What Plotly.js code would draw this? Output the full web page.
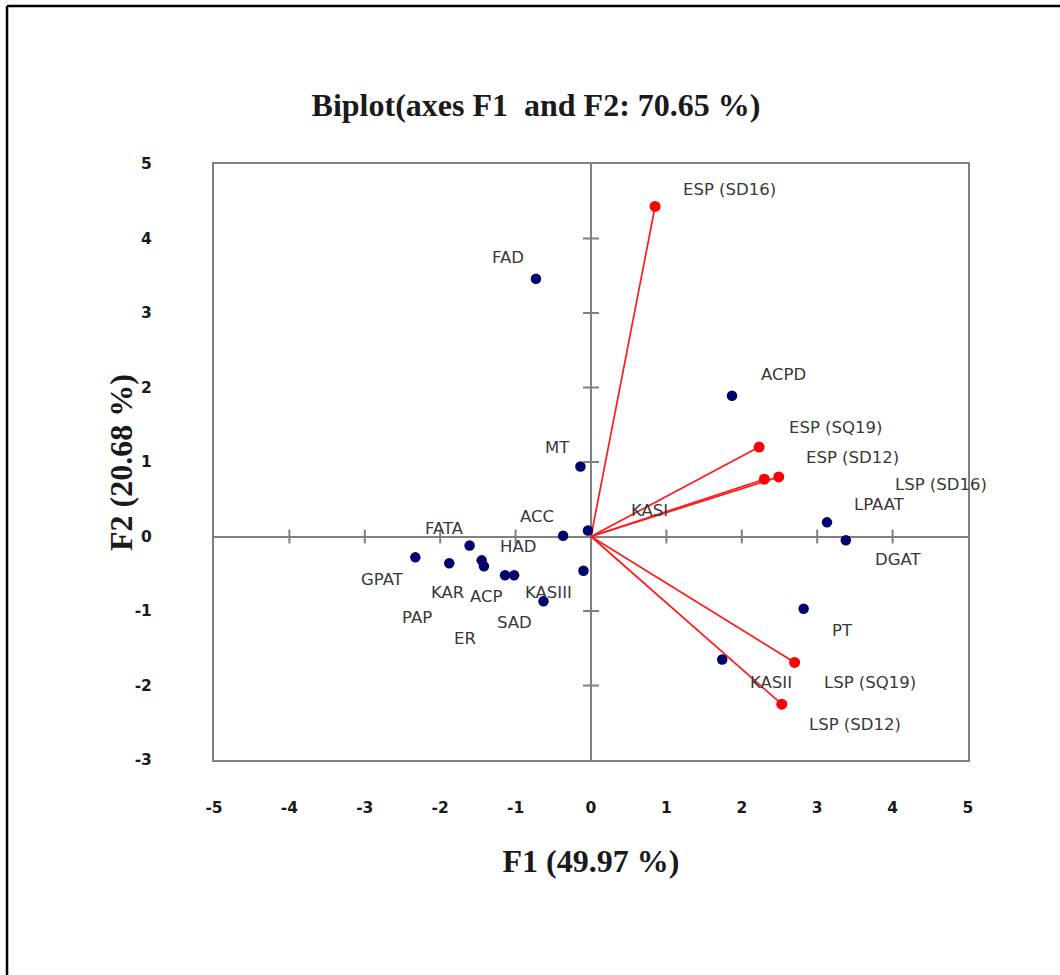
<!DOCTYPE html>
<html>
<head>
<meta charset="utf-8">
<script src="https://cdn.plot.ly/plotly-3.0.1.min.js"></script>
<style>
html,body{margin:0;padding:0;background:#fff;}
#chart{width:1060px;height:975px;}
</style>
</head>
<body>
<div id="chart"></div>
<script>
// Observations (blue points)
const obsNames = ["FAD","ACPD","MT","KASI","ACC","FATA","GPAT","KAR","ACP","PAP","ER","SAD","KASIII","HAD","LPAAT","DGAT","PT","KASII"];
const obsF1 = [-0.73, 1.87, -0.14, -0.04, -0.37, -1.61, -2.33, -1.88, -1.45, -1.42, -1.14, -1.02, -0.63, -0.10, 3.13, 3.38, 2.82, 1.74];
const obsF2 = [3.46, 1.89, 0.94, 0.08, 0.01, -0.12, -0.28, -0.36, -0.32, -0.40, -0.52, -0.52, -0.87, -0.46, 0.19, -0.05, -0.97, -1.65];
// label anchor positions for observations (data units)
const obsLabelF1 = [-1.10, 2.55, -0.44, 0.77, -0.72, -1.94, -2.77, -1.90, -1.39, -2.31, -1.67, -1.01, -0.57, -0.97, 3.83, 4.07, 3.33, 2.39];
const obsLabelF2 = [3.74, 2.17, 1.19, 0.35, 0.27, 0.11, -0.58, -0.75, -0.81, -1.09, -1.37, -1.15, -0.75, -0.13, 0.43, -0.31, -1.26, -1.96];

// Variables (red vectors)
const varNames = ["ESP (SD16)","ESP (SQ19)","ESP (SD12)","LSP (SD16)","LSP (SQ19)","LSP (SD12)"];
const varF1 = [0.85, 2.23, 2.30, 2.49, 2.70, 2.53];
const varF2 = [4.43, 1.20, 0.77, 0.80, -1.69, -2.25];
const varLabelF1 = [1.84, 3.24, 3.47, 4.64, 3.70, 3.50];
const varLabelF2 = [4.66, 1.46, 1.06, 0.70, -1.96, -2.52];

const xTickVals = [-5,-4,-3,-2,-1,0,1,2,3,4,5];
const xTickText = ["-5","-4","-3","-2","-1","0","1","2","3","4","5"];
const yTickVals = [-3,-2,-1,0,1,2,3,4,5];
const yTickText = ["-3","-2","-1","0","1","2","3","4","5"];

const titleText = "Biplot(axes F1  and F2: 70.65 %)";
const xTitle = "F1 (49.97 %)";
const yTitle = "F2 (20.68 %)";

// build vector segments from the origin
const segX = [], segY = [];
varF1.forEach((v,i)=>{ segX.push(0, v, null); segY.push(0, varF2[i], null); });

const traces = [
  {type:'scatter', mode:'lines', x:segX, y:segY, line:{color:'#ff1a1a', width:1.7}, hoverinfo:'skip', showlegend:false},
  {type:'scatter', mode:'markers', x:varF1, y:varF2, text:varNames, marker:{color:'#ff0000', size:11}, showlegend:false},
  {type:'scatter', mode:'markers', x:obsF1, y:obsF2, text:obsNames, marker:{color:'#00006e', size:10.5}, showlegend:false}
];

const labelFont = {family:'DejaVu Sans, sans-serif', size:16.5, color:'#383838'};
const titleFont = {family:'Liberation Serif, serif', size:32, color:'#1a1a1a', weight:'bold'};
const annotations = [];
obsNames.forEach((n,i)=>annotations.push({x:obsLabelF1[i], y:obsLabelF2[i], xref:'x', yref:'y', text:n, showarrow:false, font:labelFont, xanchor:'center', yanchor:'middle'}));
varNames.forEach((n,i)=>annotations.push({x:varLabelF1[i], y:varLabelF2[i], xref:'x', yref:'y', text:n, showarrow:false, font:labelFont, xanchor:'center', yanchor:'middle'}));
// y axis title
annotations.push({xref:'paper', yref:'paper', x:(121-214)/754, y:(760-463)/596, text:yTitle, textangle:-90, showarrow:false, font:titleFont, xanchor:'center', yanchor:'middle'});

const shapes = [];
xTickVals.forEach(v=>{ if(v!==0 && Math.abs(v)<5) shapes.push({type:'line', xref:'x', yref:'y', x0:v, x1:v, ysizemode:'pixel', yanchor:0, y0:-7, y1:7, line:{color:'#808080', width:2}}); });
yTickVals.forEach(v=>{ if(v!==0 && v<5 && v>-3) shapes.push({type:'line', xref:'x', yref:'y', y0:v, y1:v, xsizemode:'pixel', xanchor:0, x0:-8, x1:8, line:{color:'#808080', width:2}}); });
// outer page border (top and left)
shapes.push({type:'line', xref:'paper', yref:'paper', x0:-0.2745, x1:1.13, y0:1.2651, y1:1.2651, line:{color:'#000', width:2.5}});
shapes.push({type:'line', xref:'paper', yref:'paper', x0:-0.2745, x1:-0.2745, y0:1.2651, y1:-0.38, line:{color:'#000', width:2.5}});

const tickFont = {family:'DejaVu Sans, sans-serif', size:15.5, color:'#1a1a1a', weight:'bold'};

const layout = {
  width:1060, height:975,
  margin:{l:214, r:92, t:164, b:215},
  paper_bgcolor:'#fff', plot_bgcolor:'#fff',
  showlegend:false,
  title:{text:titleText, font:titleFont, xref:'container', yref:'container', x:536/1060, y:1-105/975, xanchor:'center', yanchor:'middle'},
  xaxis:{range:[-5,5], tickvals:xTickVals, ticktext:xTickText, showgrid:false, zeroline:true, zerolinecolor:'#808080', zerolinewidth:2,
         showline:true, mirror:true, linecolor:'#808080', linewidth:2, ticks:'', tickfont:tickFont, ticklabelstandoff:32,
         title:{text:xTitle, font:titleFont, standoff:34}},
  yaxis:{range:[-3,5], tickvals:yTickVals, ticktext:yTickText, showgrid:false, zeroline:true, zerolinecolor:'#808080', zerolinewidth:2,
         showline:true, mirror:true, linecolor:'#808080', linewidth:2, ticks:'', tickfont:tickFont, ticklabelstandoff:57},
  annotations:annotations,
  shapes:shapes
};

Plotly.newPlot('chart', traces, layout, {displayModeBar:false, staticPlot:true});
</script>
</body>
</html>
